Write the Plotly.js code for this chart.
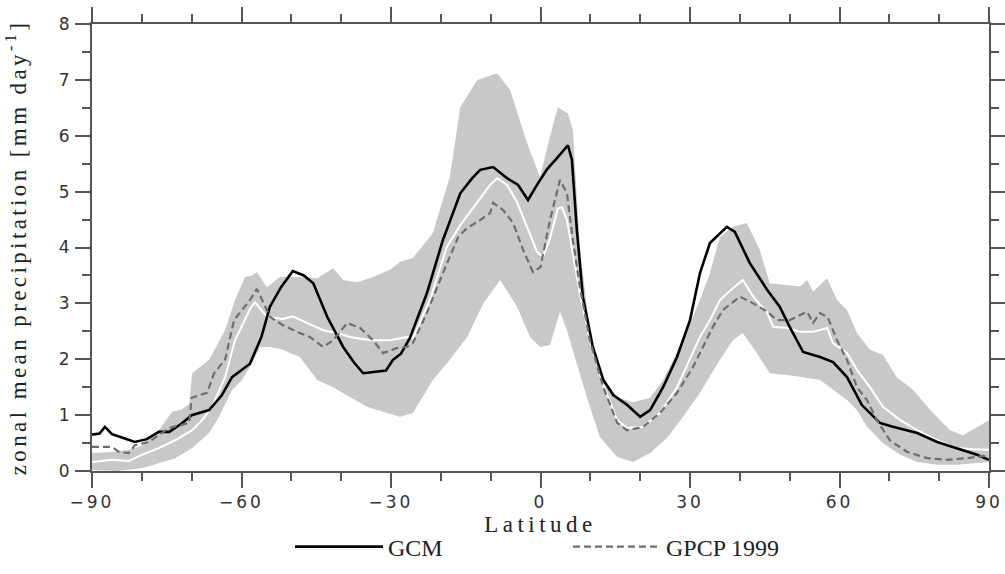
<!DOCTYPE html>
<html>
<head>
<meta charset="utf-8">
<script src="https://cdn.plot.ly/plotly-3.0.1.min.js"></script>
<style>
html,body{margin:0;padding:0;background:#fff;}
#chart{width:1005px;height:574px;}
.xtick text, .ytick text {letter-spacing:3px;}
.g-xtitle text {letter-spacing:4.5px;}
.g-ytitle text {letter-spacing:3.4px;}
</style>
</head>
<body>
<div id="chart"></div>
<script>
// GCM (black solid)
const gcmLat = [-90,-88.5,-87.4,-86,-84,-81.4,-79,-76.6,-74.5,-72,-70,-66.5,-64,-61.9,-58.3,-56,-54.3,-52,-49.7,-47.5,-45.6,-42.8,-39.6,-37.5,-35.6,-33,-31,-29.6,-28,-26.2,-22.8,-19.6,-16.1,-13.7,-12.1,-9.5,-6.7,-4.5,-2.5,-0.7,1.3,3.3,5.5,6.3,7.3,8.5,10.5,12.6,14.6,17.4,20,22,24.6,27.4,30,32,34,37.4,39,42,45.5,48,50,52.7,56.1,58.7,61.5,64.5,68.1,70.7,75.6,79.6,83.6,87.6,90];
const gcmVal = [0.65,0.67,0.79,0.66,0.60,0.52,0.57,0.70,0.70,0.85,1.0,1.09,1.35,1.68,1.92,2.4,2.94,3.3,3.58,3.50,3.36,2.76,2.22,1.95,1.75,1.78,1.80,1.99,2.10,2.38,3.18,4.13,4.97,5.24,5.39,5.44,5.24,5.12,4.85,5.12,5.40,5.60,5.83,5.57,4.31,3.12,2.22,1.63,1.36,1.18,0.97,1.09,1.50,2.04,2.70,3.54,4.08,4.37,4.28,3.72,3.24,2.94,2.58,2.13,2.04,1.95,1.68,1.18,0.86,0.79,0.68,0.52,0.41,0.29,0.20];

// GPCP 1999 (grey dashed)
const gpcpLat = [-90,-86,-84.6,-82.6,-81.4,-78.6,-74.5,-70.5,-70,-66.9,-65.5,-63.3,-61.5,-59.9,-58.3,-56.9,-55.7,-54.3,-51.7,-48.9,-46.3,-43.6,-41.6,-38.8,-36.2,-33.6,-31.6,-28.8,-26.8,-25.6,-22.8,-19.6,-16.5,-14.7,-12.1,-10.1,-9.5,-7.5,-5.5,-3.5,-1.5,0,1.9,3.9,5.3,6.5,7.9,9.9,12.6,15.4,17.4,20.6,24,27.4,30.6,32,34.6,36.6,40,42.7,45.5,47.5,50,52.1,53.5,54.7,56.1,57.7,59.5,61.5,63.5,65.5,67.5,70.1,73.6,77.6,81.6,85.6,88.8,90];
const gpcpVal = [0.43,0.43,0.34,0.32,0.46,0.52,0.77,0.86,1.31,1.40,1.75,1.99,2.70,2.88,3.06,3.26,3.02,2.76,2.61,2.49,2.40,2.22,2.34,2.65,2.56,2.34,2.11,2.20,2.22,2.29,2.83,3.54,4.19,4.35,4.49,4.62,4.80,4.67,4.44,3.96,3.56,3.65,4.49,5.21,4.97,4.13,3.29,2.34,1.50,0.86,0.73,0.79,1.04,1.40,1.86,2.11,2.58,2.88,3.12,3.00,2.85,2.70,2.70,2.79,2.85,2.65,2.83,2.74,2.34,1.99,1.50,1.27,0.91,0.55,0.34,0.23,0.20,0.23,0.27,0.25];

// ensemble mean (white)
const meanLat = [-90,-86,-82.6,-80,-76.6,-73.3,-69.9,-67.9,-65.9,-63.3,-61.3,-59.3,-58.3,-57.3,-54.9,-51.7,-49.7,-46.9,-43.6,-40.8,-38.2,-34.2,-30.2,-26.8,-25.6,-22.2,-18.8,-16.1,-12.7,-10.1,-8.7,-6.7,-4.7,-2.7,-0.7,0.5,1.9,3.5,4.3,5.3,6.5,7.9,9.9,12.5,15.4,17.4,20.6,24,27.4,30.6,32,34,36,38.6,40.6,42.7,45.5,46.7,49.5,52.1,54.7,57.5,58.7,61.5,63.5,66.1,68.7,72.2,75.6,79.6,83.6,86.8,90];
const meanVal = [0.16,0.20,0.18,0.29,0.41,0.55,0.73,0.91,1.15,1.68,2.34,2.70,2.90,3.02,2.76,2.72,2.77,2.65,2.52,2.47,2.40,2.34,2.34,2.40,2.38,3.06,4.01,4.40,4.81,5.12,5.24,5.12,4.81,4.37,3.92,3.83,4.16,4.70,4.72,4.49,3.90,3.18,2.34,1.57,0.91,0.77,0.79,1.04,1.50,2.11,2.40,2.70,3.06,3.27,3.42,3.12,2.83,2.58,2.56,2.49,2.49,2.56,2.29,2.11,1.81,1.50,1.15,0.91,0.73,0.55,0.41,0.39,0.38];

// model spread (grey band)
const upperLat = [-90,-86,-82.6,-80,-76.6,-73.9,-72,-70.5,-69.9,-66.5,-63.3,-61.3,-59.3,-57.9,-56.9,-54.9,-52.3,-48.3,-44.8,-41.6,-39.6,-36.8,-33.6,-30.2,-28.2,-25.6,-21.6,-18.2,-16.1,-12.7,-8.7,-6.1,-2.7,-0.1,1.9,3.5,5.5,6.5,7.9,9.9,12.5,15.4,18.6,22,24.6,28.6,32,34,36,38.6,41.4,44,46,49.5,52.1,53.5,54.7,57.5,59.5,61.5,63.5,66.1,68.7,71.5,74.8,78.2,82.2,84.8,87.6,90];
const upperVal = [0.32,0.34,0.38,0.45,0.73,1.06,1.10,1.20,1.75,1.99,2.52,3.06,3.47,3.50,3.56,3.29,3.47,3.47,3.45,3.63,3.42,3.38,3.47,3.60,3.74,3.81,4.26,5.26,6.51,7.00,7.12,6.82,5.87,5.26,5.98,6.51,6.40,6.10,4.01,2.47,1.68,1.32,1.23,1.31,1.63,2.34,3.06,3.54,4.19,4.37,4.44,3.96,3.36,3.33,3.30,3.42,3.21,3.45,3.06,2.88,2.47,2.17,2.08,1.68,1.45,1.09,0.73,0.64,0.79,0.91];
const lowerLat = [-90,-85,-80,-76.6,-73.3,-69.9,-66.5,-64.5,-61.9,-59.9,-57.9,-56.3,-54.3,-51.7,-48.3,-44.8,-41.6,-38.2,-34.8,-31.6,-28.2,-25.6,-21.6,-18.2,-14.7,-11.5,-8.1,-4.7,-2.1,-0.1,1.9,3.9,5.3,7.3,9.3,11.9,15.4,18.6,22,25.4,28.6,32,36,38.6,40.6,43.4,46,49.5,52.7,56.1,58.7,61.5,63.5,65.5,68.7,72.2,75.6,79.6,83.6,87.6,90];
const lowerVal = [0.02,0.0,0.05,0.14,0.23,0.41,0.68,0.97,1.45,1.63,1.93,2.22,2.22,2.17,2.04,1.63,1.50,1.32,1.15,1.06,0.97,1.04,1.63,1.99,2.40,3.00,3.42,2.94,2.40,2.22,2.25,2.85,2.52,1.93,1.32,0.61,0.25,0.16,0.32,0.59,0.97,1.40,1.99,2.34,2.47,2.11,1.75,1.72,1.68,1.63,1.45,1.27,1.09,0.79,0.50,0.29,0.16,0.11,0.11,0.14,0.16];

const seriesNames = ['GCM','GPCP 1999'];
const xTickVals = [-90,-60,-30,0,30,60,90];

const bandX = upperLat.concat(lowerLat.slice().reverse());
const bandY = upperVal.concat(lowerVal.slice().reverse());

const traces = [
  {x: bandX, y: bandY, type:'scatter', mode:'lines', fill:'toself', fillcolor:'#c8c8c8', line:{width:0, color:'#c8c8c8'}, showlegend:false, hoverinfo:'skip'},
  {x: meanLat, y: meanVal, type:'scatter', mode:'lines', line:{color:'#ffffff', width:2}, showlegend:false},
  {x: gcmLat, y: gcmVal, type:'scatter', mode:'lines', name: seriesNames[0], line:{color:'#000000', width:2.6}},
  {x: gpcpLat, y: gpcpVal, type:'scatter', mode:'lines', name: seriesNames[1], line:{color:'#6e6e6e', width:2.2, dash:'7px,4px'}}
];

const axisCommon = {
  showgrid:false, zeroline:false, showline:true, linecolor:'#555', linewidth:2,
  mirror:'ticks', ticks:'outside', ticklen:15, tickwidth:2, tickcolor:'#555', automargin:false,
  tickfont:{family:'DejaVu Sans', size:17, color:'#333'}
};

const layout = {
  width:1005, height:574,
  margin:{l:92, r:16, t:24, b:103, autoexpand:false},
  paper_bgcolor:'#fff', plot_bgcolor:'#fff',
  showlegend:true,
  legend:{orientation:'h', x:0.2207, xanchor:'left', y:-0.17, yanchor:'middle',
          itemwidth:88, entrywidth:175, entrywidthmode:'pixels',
          font:{family:'Liberation Serif', size:24, color:'#222'}, traceorder:'normal'},
  xaxis: Object.assign({}, axisCommon, {
    range:[-90,90], tickvals:xTickVals, ticklabelstandoff:8.5,
    minor:{dtick:10, ticklen:8, tickwidth:2, tickcolor:'#555', ticks:'outside'},
    title:{text:'Latitude', font:{family:'Liberation Serif', size:23, color:'#222'}, standoff:3}
  }),
  yaxis: Object.assign({}, axisCommon, {
    range:[0,8], dtick:1, ticklabelstandoff:-1,
    minor:{dtick:0.5, ticklen:8, tickwidth:2, tickcolor:'#555', ticks:'outside'},
    title:{text:'zonal mean precipitation [mm day<sup>-1</sup>]', font:{family:'Liberation Serif', size:23, color:'#222'}, standoff:26}
  })
};

Plotly.newPlot('chart', traces, layout, {displayModeBar:false, staticPlot:true});
</script>
</body>
</html>
